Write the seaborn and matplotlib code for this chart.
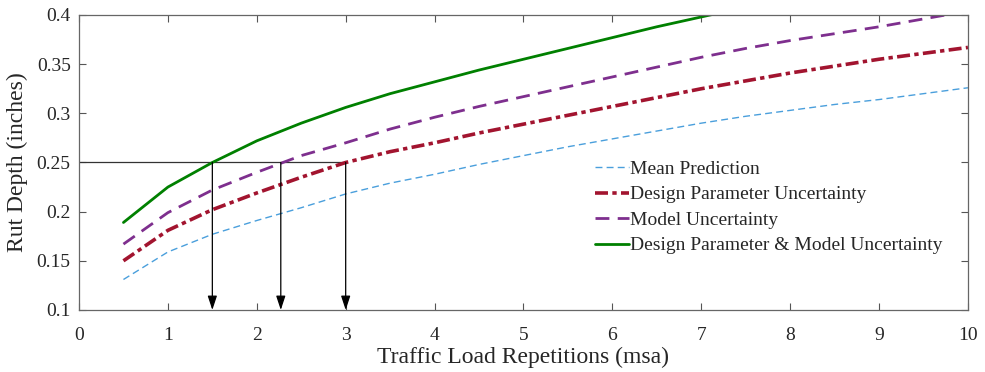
import numpy as np
import pandas as pd
import matplotlib
matplotlib.use("Agg")
import matplotlib.pyplot as plt
import seaborn as sns

# ---- data ----
msa = [0.5, 1.0, 1.5, 2.0, 2.5, 3.0, 3.5, 4.0, 4.5, 5.0,
       5.5, 6.0, 6.5, 7.0, 7.5, 8.0, 8.5, 9.0, 9.5, 10.0]
mean_pred = [0.131, 0.159, 0.177, 0.191, 0.204, 0.218, 0.229, 0.238, 0.248, 0.257,
             0.266, 0.274, 0.282, 0.290, 0.297, 0.303, 0.309, 0.314, 0.320, 0.326]
design_unc = [0.150, 0.181, 0.202, 0.219, 0.235, 0.250, 0.261, 0.270, 0.280, 0.289,
              0.298, 0.307, 0.316, 0.325, 0.333, 0.341, 0.348, 0.355, 0.361, 0.367]
model_unc = [0.167, 0.199, 0.222, 0.240, 0.257, 0.270, 0.284, 0.296, 0.307, 0.317,
             0.327, 0.337, 0.347, 0.357, 0.366, 0.374, 0.381, 0.388, 0.396, 0.404]
both_unc = [0.189, 0.225, 0.250, 0.272, 0.290, 0.306, 0.320, 0.332, 0.344, 0.355,
            0.366, 0.377, 0.388, 0.398, 0.408, 0.418, 0.427, 0.436, 0.444, 0.452]
labels = ["Mean Prediction", "Design Parameter Uncertainty", "Model Uncertainty",
          "Design Parameter & Model Uncertainty"]
threshold = 0.25
cross_x = [1.5, 2.27, 3.0]
xticks = list(range(0, 11))
yticks = [0.1, 0.15, 0.2, 0.25, 0.3, 0.35, 0.4]
ytick_labels = ["0.1", "0.15", "0.2", "0.25", "0.3", "0.35", "0.4"]

sns.set_style("ticks")
plt.rcParams["font.family"] = ["Liberation Serif", "DejaVu Serif"]

fig = plt.figure(figsize=(9.85, 3.72), dpi=100)
ax = fig.add_axes([0.0802, 0.1667, 0.9025, 0.7930])

series = [
    (mean_pred, "#4a9fdc", 1.0, [5, 3]),
    (design_unc, "#a2142f", 2.6, [3.6, 1.2, 1.2, 1.2]),
    (model_unc, "#7e2f8e", 2.0, [5, 3]),
    (both_unc, "#008000", 2.0, None),
]
for (vals, col, lw, dash), lab in zip(series, labels):
    df = pd.DataFrame({"x": msa, "y": vals})
    sns.lineplot(data=df, x="x", y="y", ax=ax, color=col, linewidth=lw,
                 label=lab, errorbar=None)
    line = ax.get_lines()[-1]
    if dash is not None:
        line.set_dashes(dash)

# reference lines
ax.plot([0, max(cross_x)], [threshold, threshold], color="#333333", lw=0.9, zorder=1)
for cx in cross_x:
    ax.annotate("", xy=(cx, 0.1), xytext=(cx, threshold),
                arrowprops=dict(arrowstyle="-|>,head_length=0.85,head_width=0.28",
                                color="black", lw=0.9, shrinkA=0, shrinkB=0),
                zorder=5)

ax.set_xlim(0, 10)
ax.set_ylim(0.1, 0.4)
ax.set_xticks(xticks)
ax.set_xticklabels([str(t) for t in xticks])
ax.set_yticks(yticks)
ax.set_yticklabels(ytick_labels)
ax.tick_params(direction="in", length=5, width=0.8, colors="#555555",
               labelcolor="#262626", labelsize=14, top=True, right=True,
               labeltop=False, labelright=False)
ax.tick_params(axis="y", pad=6)
ax.tick_params(axis="x", pad=12)
for s in ax.spines.values():
    s.set_visible(True)
    s.set_color("#666666")
    s.set_linewidth(0.9)

ax.set_xlabel("Traffic Load Repetitions (msa)", fontsize=17, color="#262626", labelpad=2)
ax.set_ylabel("Rut Depth (inches)", fontsize=17, color="#262626", labelpad=6)

leg = ax.legend(loc="upper left", bbox_to_anchor=(0.581, 0.508), frameon=False,
                fontsize=14, handlelength=1.7, handletextpad=0.1,
                labelspacing=0.41, borderaxespad=0, borderpad=0)
for t in leg.get_texts():
    t.set_color("#262626")

fig.savefig("out.png", dpi=100)
